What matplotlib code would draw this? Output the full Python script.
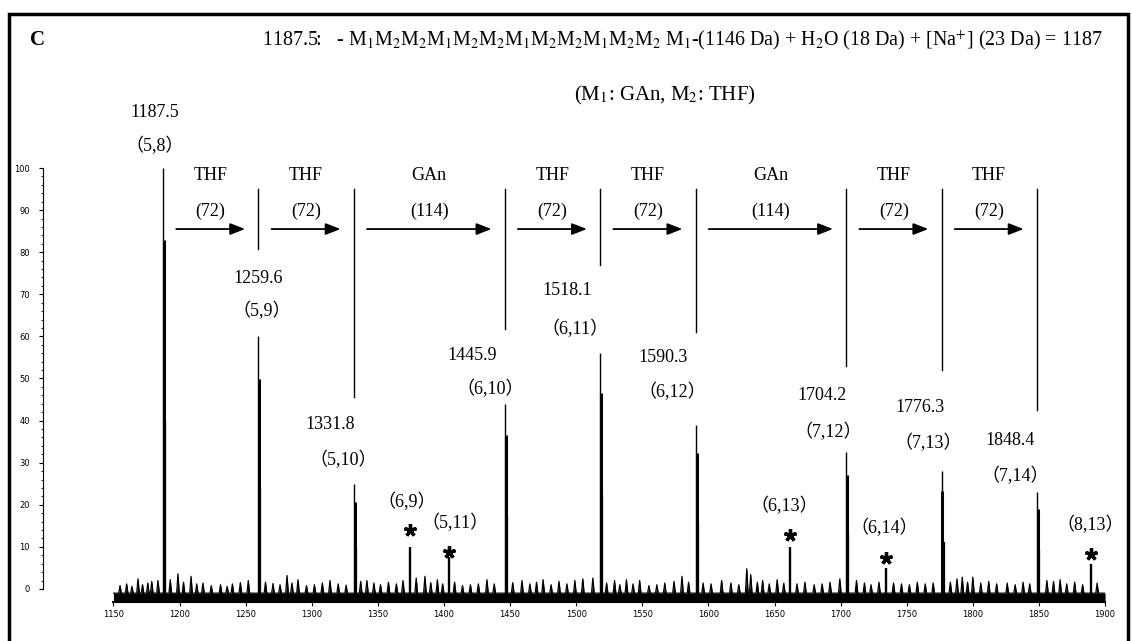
import matplotlib
matplotlib.use("Agg")
import matplotlib.pyplot as plt
from matplotlib.patches import Rectangle
from matplotlib.ticker import FixedLocator

plt.rcParams['mathtext.fontset'] = 'stix'

# main series of peaks (m/z, relative intensity)
peak_mz = [1187.5, 1259.6, 1331.8, 1445.9, 1518.1, 1590.3, 1704.2, 1776.3, 1848.4]
peak_int = [100, 60, 25, 44, 56, 39, 32.5, 28, 23]
peak_comp = ['(5,8)', '(5,9)', '(5,10)', '(6,10)', '(6,11)', '(6,12)', '(7,12)', '(7,13)', '(7,14)']

# starred side peaks
star_mz = [1374.3, 1403.8, 1661.6, 1734.2, 1889.2]
star_int = [10, 7.5, 10, 5, 6]
star_comp = ['(6,9)', '(5,11)', '(6,13)', '(6,14)', '(8,13)']

# repeat units between neighbouring main peaks
step_name = ['THF', 'THF', 'GAn', 'THF', 'THF', 'GAn', 'THF', 'THF']
step_mass = ['(72)', '(72)', '(114)', '(72)', '(72)', '(114)', '(72)', '(72)']

# baseline noise
noise_mz = [1155, 1160, 1164, 1168.6, 1172, 1176, 1179, 1183.7, 1193, 1198.8, 1203, 1208.7,
            1213, 1217.7, 1224, 1231, 1236, 1240, 1246, 1252, 1265, 1270.7, 1276, 1281.3,
            1285, 1289.6, 1296, 1302, 1308, 1313.8, 1320, 1326, 1337, 1341.7, 1347, 1352,
            1358, 1364, 1369, 1379, 1385.6, 1390, 1395, 1399, 1408, 1414, 1420, 1426, 1432.5,
            1438, 1452, 1459, 1465, 1470, 1475, 1481, 1487, 1493, 1499, 1505, 1512.6, 1523,
            1529, 1533, 1538, 1543, 1548, 1555, 1561, 1567, 1574, 1580, 1585, 1596, 1602,
            1610, 1617, 1623, 1629, 1632, 1637, 1641, 1646, 1652, 1657, 1667, 1673, 1680,
            1686, 1692, 1699.4, 1712, 1718, 1723, 1729, 1740, 1746, 1752, 1758, 1764, 1770,
            1783, 1788, 1792, 1796, 1800, 1806, 1812, 1818, 1826, 1832, 1838, 1843, 1856,
            1861, 1866, 1871, 1877, 1883, 1894]
noise_int = [0.8, 1.2, 0.6, 2.4, 1.0, 1.4, 1.8, 2.0, 2.2, 3.6, 1.6, 3.0,
             1.2, 1.4, 0.8, 1.0, 0.6, 1.2, 1.5, 2.0, 1.6, 1.3, 1.0, 3.2,
             1.4, 2.2, 0.8, 1.0, 1.4, 2.0, 1.2, 0.9, 1.8, 2.0, 1.4, 1.0,
             1.6, 1.2, 2.0, 2.6, 3.0, 1.5, 2.2, 1.2, 1.6, 0.8, 1.0, 1.2, 2.2,
             1.2, 1.5, 2.0, 1.2, 1.6, 2.2, 1.0, 1.8, 1.2, 2.0, 2.4, 2.6, 1.4,
             2.0, 1.0, 2.2, 1.2, 2.0, 0.8, 1.0, 1.4, 1.8, 3.0, 1.6, 1.4, 1.2,
             2.0, 1.4, 1.0, 4.8, 3.4, 1.6, 2.0, 1.2, 2.2, 1.4, 1.2, 1.6, 1.0,
             1.2, 1.6, 2.4, 2.0, 1.4, 1.0, 1.6, 1.4, 1.2, 1.0, 1.6, 1.2, 1.4,
             1.6, 2.4, 2.8, 1.6, 2.8, 1.4, 1.8, 1.2, 1.4, 1.0, 1.6, 1.2, 2.0,
             1.8, 2.2, 1.2, 1.6, 1.0, 1.4]

# label placement (m/z, intensity) for each main peak
mz_text_x = [1181.5, 1259.3, 1313.8, 1421.1, 1493.0, 1565.6, 1685.8, 1759.9, 1827.9]
mz_text_y = [113.3, 73.8, 39.0, 55.5, 71.0, 55.0, 46.0, 43.1, 35.2]
comp_text_x = [1181.5, 1262.4, 1323.6, 1434.8, 1499.0, 1573.0, 1690.4, 1766.0, 1831.7]
comp_text_y = [105.2, 66.0, 30.7, 47.6, 61.7, 46.9, 37.4, 34.8, 26.9]
leader_bottom = [None, 80.7, 45.7, 61.7, 77.0, 61.0, 53.0, 52.0, 42.6]
star_text_x = [1372.0, 1408.3, 1657.0, 1732.7, 1888.4]
star_text_y = [20.7, 15.7, 19.8, 14.4, 15.2]
star_mark_y = [14.0, 8.8, 12.9, 7.3, 8.3]

serif = 'Liberation Serif'
paren = ['Liberation Serif', 'Noto Sans CJK SC']


def comp_label(s):
    return '\uff08' + s[1:-1] + '\uff09'


fig = plt.figure(figsize=(11.32, 6.41), dpi=100)
ax = fig.add_axes([0.1002, 0.0615, 0.876, 0.6764])

# jagged noise trace: each spike rises from the baseline and falls back
base = -1.0
xs, ys = [1150], [base]
for m, h in sorted(zip(noise_mz, noise_int)):
    xs += [m - 1.0, m, m + 1.0]
    ys += [base, h, base]
xs.append(1900)
ys.append(base)
ax.fill_between(xs, -3, ys, color='black', lw=0)
ax.plot(xs, ys, color='black', lw=0.9)

# main peaks with a thicker core
ax.vlines(peak_mz, -3, peak_int, color='black', lw=1.0)
ax.vlines([m + 0.7 for m in peak_mz], -3, [h * 0.83 for h in peak_int], color='black', lw=2.2)
ax.vlines([m + 1.6 for m in peak_mz], -3, [h * 0.4 for h in peak_int], color='black', lw=1.6)
ax.vlines(star_mz, -3, star_int, color='black', lw=1.7)

# leader lines above the labels
for m, b in zip(peak_mz, leader_bottom):
    if b is not None:
        ax.plot([m, m], [95, b], color='black', lw=1.0)

# peak labels
for i in range(len(peak_mz)):
    ax.text(mz_text_x[i], mz_text_y[i], '%.1f' % peak_mz[i], ha='center', va='center',
            fontsize=13, family=serif)
    ax.text(comp_text_x[i], comp_text_y[i], comp_label(peak_comp[i]), ha='center', va='center',
            fontsize=13, family=paren)

for i in range(len(star_mz)):
    ax.text(star_text_x[i], star_text_y[i], comp_label(star_comp[i]), ha='center', va='center',
            fontsize=13, family=paren)
    ax.plot(star_mz[i], star_mark_y[i], marker=(5, 2, 0), ms=9, mew=2.4, color='black')

# repeat-unit arrows
for i in range(len(step_name)):
    x0 = peak_mz[i] + 10
    x1 = peak_mz[i + 1] - 10
    ax.annotate('', xy=(x1, 85.5), xytext=(x0, 85.5),
                arrowprops=dict(arrowstyle='-|>,head_length=0.9,head_width=0.35',
                                color='black', lw=1.3, shrinkA=0, shrinkB=0))
    xc = (x0 + x1) / 2
    ax.text(xc, 98.3, step_name[i], ha='center', va='center', fontsize=13, family=serif)
    ax.text(xc, 89.8, step_mass[i], ha='center', va='center', fontsize=13, family=serif)

ax.set_xlim(1150, 1900)
ax.set_ylim(-3, 100)
ax.set_xticks(range(1150, 1901, 50))
ax.set_yticks(range(0, 101, 10))
ax.yaxis.set_minor_locator(FixedLocator(range(0, 101, 2)))
ax.tick_params(axis='both', labelsize=6, direction='out', length=3, width=0.8)
ax.tick_params(axis='y', which='minor', length=1.5, width=0.6)
ax.tick_params(axis='y', pad=6)
ax.tick_params(axis='x', pad=3)
ax.spines['top'].set_visible(False)
ax.spines['right'].set_visible(False)
ax.spines['left'].set_position(('outward', 51))
ax.spines['left'].set_bounds(0, 100)
ax.spines['bottom'].set_linewidth(1.5)

# header texts
fig.text(30 / 1132, 1 - 40 / 641, 'C', fontsize=15, fontweight='bold', family=serif, va='center')
fig.text(262 / 1132, 1 - 40 / 641,
         '1187.5:   - M$_1$M$_2$M$_2$M$_1$M$_2$M$_2$M$_1$M$_2$M$_2$M$_1$M$_2$M$_2$ M$_1$-(1146 Da)'
         ' + H$_2$O (18 Da) + [Na$^{+}$] (23 Da) = 1187',
         fontsize=14.4, family=serif, va='center')
fig.text(665 / 1132, 1 - 95 / 641, '(M$_1$: GAn, M$_2$: THF)', fontsize=15, family=serif,
         ha='center', va='center')

fig.patches.append(Rectangle((9 / 1132, -0.1), (1128 - 9) / 1132, 1.1 - 14 / 641,
                             transform=fig.transFigure, fill=False, lw=2.5, color='black'))

fig.savefig('out.png', dpi=100)
